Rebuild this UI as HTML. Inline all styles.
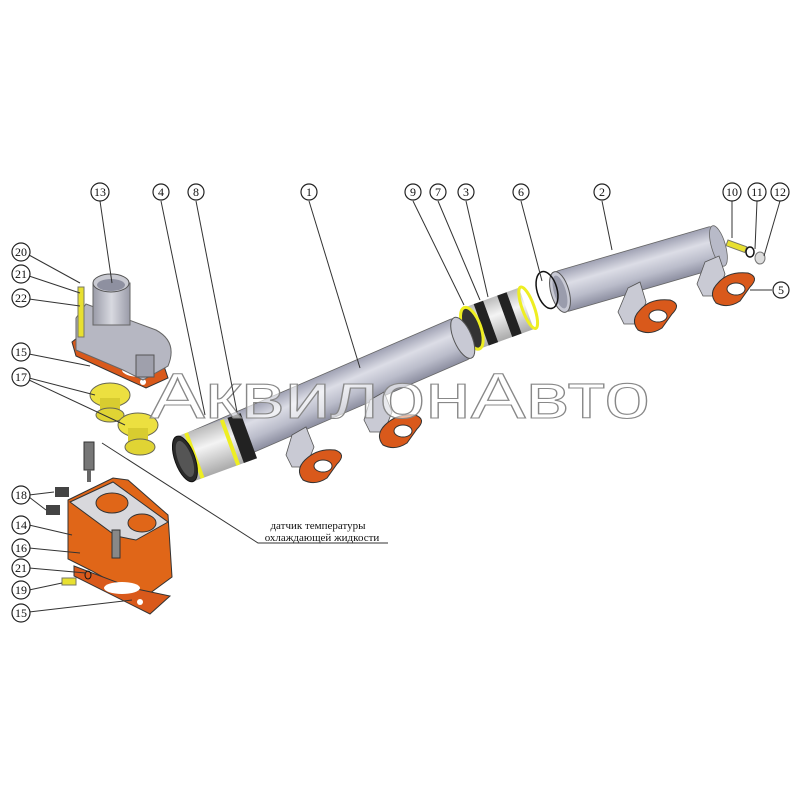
<!DOCTYPE html>
<html><head><meta charset="utf-8"><style>
html,body{margin:0;padding:0;background:#fff;width:800px;height:800px;overflow:hidden}
svg{display:block}
.c{fill:#fff;stroke:#222;stroke-width:1.2}
.n{font-family:"Liberation Serif",serif;font-size:12px;fill:#111;text-anchor:middle}
.l{stroke:#333;stroke-width:1;fill:none}
</style></head><body>
<svg width="800" height="800" viewBox="0 0 800 800" xmlns="http://www.w3.org/2000/svg">
<defs>
<linearGradient id="pg" x1="0" y1="0" x2="0" y2="1">
<stop offset="0" stop-color="#9fa1b3"/><stop offset="0.35" stop-color="#dcdde6"/><stop offset="0.7" stop-color="#babcca"/><stop offset="1" stop-color="#8c8ea0"/></linearGradient>
<linearGradient id="sg" x1="0" y1="0" x2="0" y2="1">
<stop offset="0" stop-color="#bbb"/><stop offset="0.4" stop-color="#f4f4f4"/><stop offset="1" stop-color="#aaa"/></linearGradient>
<linearGradient id="cg" x1="0" y1="0" x2="1" y2="0">
<stop offset="0" stop-color="#9a9ba8"/><stop offset="0.5" stop-color="#d8d9e0"/><stop offset="1" stop-color="#9a9ba8"/></linearGradient>
</defs>

<!-- pipe 2 -->
<g transform="translate(560,292) rotate(-16.2)">
<rect x="0" y="-21" width="165" height="42" rx="4" fill="url(#pg)" stroke="#666" stroke-width="0.8"/>
<ellipse cx="0" cy="0" rx="9" ry="21" fill="#c8c9d4" stroke="#555"/>
<ellipse cx="0" cy="0" rx="6" ry="17" fill="#9a9cac"/>
<ellipse cx="165" cy="0" rx="7" ry="21" fill="#b8bac8" stroke="#666" stroke-width="0.8"/>
</g>
<path d="M628,288 l12,-6 l6,20 l-8,22 l-14,0 l-6,-12z" fill="#c9cad4" stroke="#555" stroke-width="0.8"/>
<path d="M705,262 l14,-6 l6,18 l-8,22 l-14,0 l-6,-12z" fill="#c9cad4" stroke="#555" stroke-width="0.8"/>
<path d="M640,310 q10,-12 30,-10 q12,4 2,14 l-10,14 q-12,8 -24,2 q-8,-10 2,-20z" fill="#d9591b" stroke="#333"/>
<ellipse cx="658" cy="316" rx="9" ry="6" fill="#fff" stroke="#333"/>
<path d="M718,283 q10,-12 30,-10 q12,4 2,14 l-10,14 q-12,8 -24,2 q-8,-10 2,-20z" fill="#d9591b" stroke="#333"/>
<ellipse cx="736" cy="289" rx="9" ry="6" fill="#fff" stroke="#333"/>
<ellipse cx="547" cy="290" rx="10" ry="19" transform="rotate(-16 547 290)" fill="none" stroke="#111" stroke-width="1.5"/>
<!-- sleeve 3 / clamps -->
<g transform="translate(500,318) rotate(-20)">
<rect x="-28" y="-22" width="56" height="44" fill="url(#sg)"/>
<rect x="-20" y="-22" width="10" height="44" fill="#222"/>
<rect x="5" y="-22" width="10" height="44" fill="#222"/>
<ellipse cx="-30" cy="0" rx="9" ry="22" fill="#333" stroke="#ee2" stroke-width="3"/>
<ellipse cx="30" cy="0" rx="6" ry="22" fill="none" stroke="#ee2" stroke-width="3"/>
</g>
<!-- pipe 1 -->
<g transform="translate(192,455) rotate(-23.4)">
<rect x="0" y="-22" width="295" height="44" rx="4" fill="url(#pg)" stroke="#666" stroke-width="0.8"/>
<ellipse cx="295" cy="0" rx="9" ry="22" fill="#c8c9d4" stroke="#555"/>
</g>
<path d="M292,435 l14,-8 l8,20 l-8,20 l-14,0 l-6,-12z" fill="#c9cad4" stroke="#555" stroke-width="0.8"/>
<path d="M370,400 l14,-8 l8,20 l-8,20 l-14,0 l-6,-12z" fill="#c9cad4" stroke="#555" stroke-width="0.8"/>
<path d="M305,460 q12,-12 30,-10 q12,4 2,14 l-10,14 q-12,8 -24,2 q-8,-10 2,-20z" fill="#d9591b" stroke="#333"/>
<ellipse cx="323" cy="466" rx="9" ry="6" fill="#fff" stroke="#333"/>
<path d="M385,425 q12,-12 30,-10 q12,4 2,14 l-10,14 q-12,8 -24,2 q-8,-10 2,-20z" fill="#d9591b" stroke="#333"/>
<ellipse cx="403" cy="431" rx="9" ry="6" fill="#fff" stroke="#333"/>
<!-- sleeve 4 -->
<g transform="translate(215,448) rotate(-20)">
<rect x="-30" y="-24" width="60" height="48" fill="url(#sg)"/>
<rect x="22" y="-24" width="14" height="48" fill="#222"/>
<rect x="14" y="-24" width="4" height="48" fill="#ee2"/>
<rect x="-24" y="-24" width="4" height="48" fill="#ee2"/>
<ellipse cx="-32" cy="0" rx="10" ry="24" fill="#2a2a2a" stroke="#111"/>
<ellipse cx="-32" cy="0" rx="7" ry="19" fill="#555"/>
</g>
<!-- gasket under cover -->
<path d="M72,342 l10,-8 l82,32 l4,12 l-22,10 l-70,-32z" fill="#d9591b" stroke="#333"/>
<ellipse cx="140" cy="370" rx="18" ry="7" fill="#fff"/>
<circle cx="143" cy="382" r="3" fill="#fff"/>
<!-- thermostat cover 13 -->
<path d="M76,318 l10,-14 l70,26 q22,12 12,36 l-25,14 l-20,-10 l-47,-20z" fill="#b6b7c2" stroke="#666"/>
<rect x="136" y="355" width="18" height="22" fill="#9fa0ac" stroke="#555"/>
<rect x="93" y="283" width="37" height="42" fill="url(#cg)" stroke="#666"/>
<ellipse cx="111" cy="283" rx="18" ry="9" fill="#c9cad2" stroke="#555"/>
<ellipse cx="111" cy="285" rx="14" ry="6" fill="#8e90a0"/>
<rect x="78" y="287" width="6" height="50" fill="#e8e030" stroke="#776"/>
<!-- thermostats -->
<ellipse cx="110" cy="395" rx="20" ry="12" fill="#ece040" stroke="#665"/>
<rect x="100" y="398" width="20" height="16" fill="#d8cc30"/>
<ellipse cx="110" cy="415" rx="14" ry="7" fill="#e0d434" stroke="#665"/>
<ellipse cx="138" cy="425" rx="20" ry="12" fill="#ece040" stroke="#665"/>
<rect x="128" y="428" width="20" height="18" fill="#d8cc30"/>
<ellipse cx="140" cy="447" rx="15" ry="8" fill="#e0d434" stroke="#665"/>
<!-- sensor -->
<rect x="84" y="442" width="10" height="28" fill="#777" stroke="#333"/>
<rect x="87" y="470" width="4" height="12" fill="#666"/>
<!-- housing 14 -->
<path d="M68,500 l45,-22 l15,2 l40,35 l4,62 l-30,22 l-50,-28 l-24,-12z" fill="#e06618" stroke="#333"/>
<path d="M70,502 l43,-20 l55,40 l-32,18 l-20,-4z" fill="#d8d8dc" stroke="#333"/>
<ellipse cx="112" cy="503" rx="16" ry="10" fill="#e06618" stroke="#333"/>
<ellipse cx="142" cy="523" rx="14" ry="9" fill="#e06618" stroke="#333"/>
<rect x="112" y="530" width="8" height="28" fill="#888" stroke="#333"/>
<path d="M74,566 l58,22 l38,8 l-20,18 l-76,-38z" fill="#d9591b" stroke="#333"/>
<ellipse cx="122" cy="588" rx="18" ry="6" fill="#fff"/>
<circle cx="140" cy="602" r="3" fill="#fff"/>
<rect x="55" y="487" width="14" height="10" fill="#444"/><rect x="46" y="505" width="14" height="10" fill="#444"/>
<rect x="62" y="578" width="14" height="7" fill="#e8e030" stroke="#776"/>
<ellipse cx="88" cy="575" rx="3" ry="4" fill="none" stroke="#111"/>
<!-- small parts 10-12 -->
<rect x="728" y="240" width="20" height="6" transform="rotate(20 728 240)" fill="#e8e030" stroke="#776"/>
<ellipse cx="750" cy="252" rx="4" ry="5" fill="none" stroke="#111" stroke-width="1.5"/>
<ellipse cx="760" cy="258" rx="5" ry="6" fill="#ddd" stroke="#777"/>

<text x="150" y="418" font-family="Liberation Sans,sans-serif" font-size="64" textLength="500" lengthAdjust="spacingAndGlyphs" fill="#fff" fill-opacity="0.6" stroke="#888" stroke-width="1.1">АквилонАвто</text>

<g class="l">
<line x1="100" y1="201" x2="112" y2="283"/>
<line x1="161" y1="201" x2="205" y2="415"/>
<line x1="196" y1="201" x2="237" y2="412"/>
<line x1="309" y1="201" x2="360" y2="368"/>
<line x1="413" y1="201" x2="464" y2="305"/>
<line x1="438" y1="201" x2="480" y2="300"/>
<line x1="466" y1="201" x2="488" y2="297"/>
<line x1="521" y1="201" x2="542" y2="281"/>
<line x1="602" y1="201" x2="612" y2="250"/>
<line x1="732" y1="201" x2="732" y2="238"/>
<line x1="757" y1="201" x2="755" y2="249"/>
<line x1="780" y1="201" x2="764" y2="256"/>
<line x1="772" y1="290" x2="750" y2="290"/>
<line x1="29" y1="255" x2="80" y2="283"/>
<line x1="29" y1="276" x2="80" y2="293"/>
<line x1="29" y1="299" x2="80" y2="306"/>
<line x1="29" y1="354" x2="90" y2="366"/>
<line x1="29" y1="378" x2="95" y2="395"/>
<line x1="29" y1="380" x2="125" y2="425"/>
<line x1="29" y1="495" x2="54" y2="492"/>
<line x1="29" y1="497" x2="46" y2="510"/>
<line x1="29" y1="525" x2="72" y2="535"/>
<line x1="29" y1="548" x2="80" y2="553"/>
<line x1="29" y1="568" x2="86" y2="573"/>
<line x1="29" y1="590" x2="62" y2="583"/>
<line x1="29" y1="612" x2="132" y2="600"/>
<polyline points="102,443 258,543 388,543"/>
</g>
<text x="318" y="529" font-family="Liberation Serif,serif" font-size="11" text-anchor="middle" fill="#111">датчик температуры</text>
<text x="322" y="541" font-family="Liberation Serif,serif" font-size="11" text-anchor="middle" fill="#111">охлаждающей жидкости</text>

<g>
<circle class="c" cx="100" cy="192" r="9"/><text class="n" x="100" y="196">13</text>
<circle class="c" cx="161" cy="192" r="8"/><text class="n" x="161" y="196">4</text>
<circle class="c" cx="196" cy="192" r="8"/><text class="n" x="196" y="196">8</text>
<circle class="c" cx="309" cy="192" r="8"/><text class="n" x="309" y="196">1</text>
<circle class="c" cx="413" cy="192" r="8"/><text class="n" x="413" y="196">9</text>
<circle class="c" cx="438" cy="192" r="8"/><text class="n" x="438" y="196">7</text>
<circle class="c" cx="466" cy="192" r="8"/><text class="n" x="466" y="196">3</text>
<circle class="c" cx="521" cy="192" r="8"/><text class="n" x="521" y="196">6</text>
<circle class="c" cx="602" cy="192" r="8"/><text class="n" x="602" y="196">2</text>
<circle class="c" cx="732" cy="192" r="9"/><text class="n" x="732" y="196">10</text>
<circle class="c" cx="757" cy="192" r="9"/><text class="n" x="757" y="196">11</text>
<circle class="c" cx="780" cy="192" r="9"/><text class="n" x="780" y="196">12</text>
<circle class="c" cx="781" cy="290" r="8"/><text class="n" x="781" y="294">5</text>
<circle class="c" cx="21" cy="252" r="9"/><text class="n" x="21" y="256">20</text>
<circle class="c" cx="21" cy="274" r="9"/><text class="n" x="21" y="278">21</text>
<circle class="c" cx="21" cy="298" r="9"/><text class="n" x="21" y="302">22</text>
<circle class="c" cx="21" cy="352" r="9"/><text class="n" x="21" y="356">15</text>
<circle class="c" cx="21" cy="377" r="9"/><text class="n" x="21" y="381">17</text>
<circle class="c" cx="21" cy="495" r="9"/><text class="n" x="21" y="499">18</text>
<circle class="c" cx="21" cy="525" r="9"/><text class="n" x="21" y="529">14</text>
<circle class="c" cx="21" cy="548" r="9"/><text class="n" x="21" y="552">16</text>
<circle class="c" cx="21" cy="568" r="9"/><text class="n" x="21" y="572">21</text>
<circle class="c" cx="21" cy="590" r="9"/><text class="n" x="21" y="594">19</text>
<circle class="c" cx="21" cy="613" r="9"/><text class="n" x="21" y="617">15</text>
</g>
</svg>
</body></html>
